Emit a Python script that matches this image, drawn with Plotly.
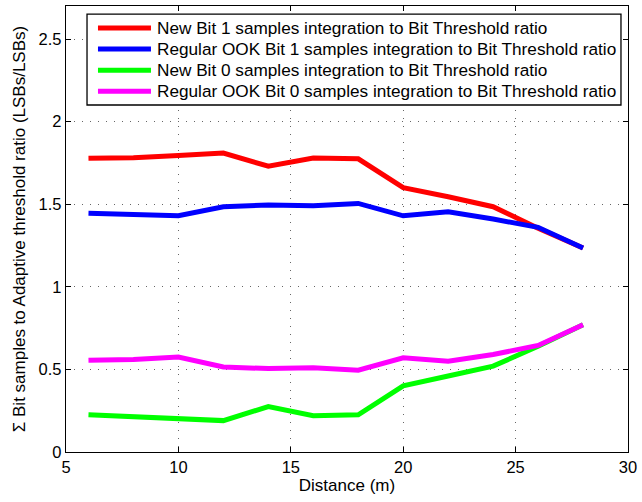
import plotly.graph_objects as go

distance = [6, 8, 10, 12, 14, 16, 18, 20, 22, 24, 26, 28]

new_bit1 = [1.778, 1.782, 1.795, 1.810, 1.730, 1.780, 1.775, 1.600, 1.545, 1.485, 1.355, 1.235]
ook_bit1 = [1.445, 1.440, 1.430, 1.485, 1.495, 1.490, 1.505, 1.430, 1.455, 1.410, 1.360, 1.235]
new_bit0 = [0.225, 0.215, 0.205, 0.190, 0.275, 0.220, 0.225, 0.400, 0.460, 0.520, 0.640, 0.770]
ook_bit0 = [0.555, 0.560, 0.575, 0.515, 0.505, 0.510, 0.495, 0.570, 0.550, 0.590, 0.645, 0.770]

series_names = [
    "New Bit 1 samples integration to Bit Threshold ratio",
    "Regular OOK Bit 1 samples integration to Bit Threshold ratio",
    "New Bit 0 samples integration to Bit Threshold ratio",
    "Regular OOK Bit 0 samples integration to Bit Threshold ratio",
]
series_values = [new_bit1, ook_bit1, new_bit0, ook_bit0]
series_colors = ["#ff0000", "#0000ff", "#00ff00", "#ff00ff"]

x_ticks = [5, 10, 15, 20, 25, 30]
y_ticks = [0, 0.5, 1, 1.5, 2, 2.5]
y_tick_text = ["0", "0.5", "1", "1.5", "2", "2.5"]

fig = go.Figure()
for name, vals, col in zip(series_names, series_values, series_colors):
    fig.add_trace(go.Scatter(x=distance, y=vals, mode="lines", name=name,
                             line=dict(color=col, width=5), showlegend=False))

axis_common = dict(
    showline=True, linecolor="black", linewidth=1.3, mirror="ticks",
    ticks="inside", ticklen=5, tickcolor="black",
    showgrid=True, gridcolor="#666666", griddash="1px,7px", gridwidth=1,
    zeroline=False, tickfont=dict(size=16.5, color="black"),
)

fig.update_xaxes(range=[5, 30], tickvals=x_ticks,
                 title=dict(text="Distance (m)", font=dict(size=17, color="black"), standoff=3),
                 **axis_common)
fig.update_yaxes(range=[0, 2.7], tickvals=y_ticks, ticktext=y_tick_text,
                 title=dict(text="Σ Bit samples to Adaptive threshold ratio (LSBs/LSBs)",
                            font=dict(size=17, color="black"), standoff=8),
                 **axis_common)

# Boxed legend in the upper part of the axes (paper coordinates), MATLAB style:
# long colour swatches followed by the series names, tightly spaced rows.
box_x0, box_x1, box_y0, box_y1 = 0.0374, 0.9875, 0.778, 0.982
row_top, row_step = 0.9507, 0.0473
swatch_x0, swatch_x1, label_x = 0.0569, 0.1512, 0.158

shapes = [dict(type="rect", xref="paper", yref="paper",
               x0=box_x0, x1=box_x1, y0=box_y0, y1=box_y1,
               fillcolor="white", line=dict(color="black", width=1.3), layer="above")]
annotations = []
for i, (name, col) in enumerate(zip(series_names, series_colors)):
    yy = row_top - i * row_step
    shapes.append(dict(type="line", xref="paper", yref="paper",
                       x0=swatch_x0, x1=swatch_x1, y0=yy, y1=yy,
                       line=dict(color=col, width=5), layer="above"))
    annotations.append(dict(xref="paper", yref="paper", x=label_x, y=yy,
                            xanchor="left", yanchor="middle", showarrow=False,
                            text=name, font=dict(size=17.2, color="black")))

fig.update_layout(
    width=642, height=502,
    margin=dict(l=66, r=14, t=6, b=50),
    paper_bgcolor="white", plot_bgcolor="white",
    font=dict(family="Liberation Sans, Arial, sans-serif", size=17, color="black"),
    shapes=shapes, annotations=annotations,
    showlegend=False,
)

fig.write_html("out.html")
